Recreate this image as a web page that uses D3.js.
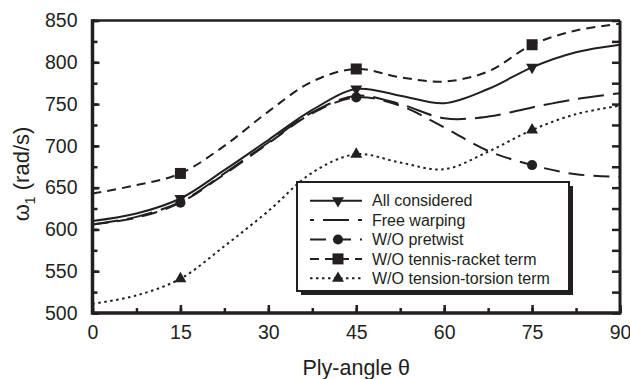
<!DOCTYPE html>
<html>
<head>
<meta charset="utf-8">
<script src="https://cdn.jsdelivr.net/npm/d3@7"></script>
<style>
  body { margin: 0; background: #fff; }
  svg { display: block; font-family: "Liberation Sans", Arial, sans-serif; }
  text { fill: #231f20; }
</style>
</head>
<body>
<svg id="chart"></svg>
<script>
var angles = [0, 7.5, 15, 22.5, 30, 37.5, 45, 52.5, 60, 67.5, 75, 82.5, 90]
var markerAngles = [15, 45, 75]

var allConsidered = [610, 619, 637, 671, 707, 743, 768, 760, 751, 768, 794, 812, 821]
var freeWarping = [606, 615, 633, 667, 704, 740, 760, 750, 733, 735, 746, 756, 763]
var noPretwist = [606, 614, 632, 666, 703, 739, 758, 748, 722, 694, 677, 666, 663]
var noTennisRacket = [643, 653, 667, 700, 741, 777, 792, 782, 777, 789, 821, 838, 846]
var noTensionTorsion = [511, 521, 541, 580, 622, 668, 690, 680, 672, 693, 719, 738, 748]

var xTicks = [0, 15, 30, 45, 60, 75, 90]
var yTicks = [500, 550, 600, 650, 700, 750, 800, 850]

var seriesNames = ["All considered", "Free warping", "W/O pretwist",
    "W/O tennis-racket term", "W/O tension-torsion term"]

var screen = { width: 630, height: 379 }
var margins = { left: 92.5, right: 10, top: 20.5, bottom: 66 }
var graph = {
    width: 527.5,
    height: 292.5
}

var svg = d3.select("#chart")
    .attr("width", screen.width)
    .attr("height", screen.height)

var xScale = d3.scaleLinear()
    .domain([0, 90])
    .range([0, graph.width])

var yScale = d3.scaleLinear()
    .domain([500, 850])
    .range([graph.height, 0])

var makeTranslateString = function (x, y) {
    return "translate(" + x + "," + y + ")";
}

var plot = svg.append("g")
    .attr("transform", makeTranslateString(margins.left, margins.top))

// line styles and markers for each series
var styles = [
    { values: allConsidered, dash: null, marker: "down" },
    { values: freeWarping, dash: "26,9", marker: null },
    { values: noPretwist, dash: "16,9", marker: "circle" },
    { values: noTennisRacket, dash: "9,6", marker: "square" },
    { values: noTensionTorsion, dash: "2.5,3.5", marker: "up" }
]

var symbolPath = function (kind) {
    if (kind == "circle") return d3.symbol(d3.symbolCircle, 80)()
    if (kind == "square") return d3.symbol(d3.symbolSquare, 121)()
    return d3.symbol(d3.symbolTriangle, 62)()
}

var lineGenerator = d3.line()
    .x(function (d) { return xScale(d.angle) })
    .y(function (d) { return yScale(d.value) })
    .curve(d3.curveCatmullRom.alpha(0.5))

styles.forEach(function (s) {
    var pts = angles.map(function (a, i) {
        return { angle: a, value: s.values[i] }
    })
    plot.append("path")
        .datum(pts)
        .attr("d", lineGenerator)
        .attr("fill", "none")
        .attr("stroke", "#231f20")
        .attr("stroke-width", 2)
        .attr("stroke-dasharray", s.dash)

    if (s.marker) {
        plot.selectAll(null)
            .data(pts.filter(function (p) { return markerAngles.indexOf(p.angle) >= 0 }))
            .enter()
            .append("path")
            .attr("d", symbolPath(s.marker))
            .attr("fill", "#231f20")
            .attr("transform", function (p) {
                var t = makeTranslateString(xScale(p.angle), yScale(p.value))
                if (s.marker == "down") t += " rotate(180)"
                return t
            })
    }
})

// axes: inward ticks, major with labels, minor without
var minorX = d3.range(0, 91, 7.5)
var minorY = d3.range(500, 851, 25)

var leftMinor = plot.append("g")
    .call(d3.axisLeft(yScale).tickValues(minorY).tickSize(-5).tickFormat(""))
var leftMajor = plot.append("g")
    .call(d3.axisLeft(yScale).tickValues(yTicks).tickSize(-7).tickPadding(15))
var bottomMinor = plot.append("g")
    .attr("transform", makeTranslateString(0, graph.height))
    .call(d3.axisBottom(xScale).tickValues(minorX).tickSize(-5).tickFormat(""))
var bottomMajor = plot.append("g")
    .attr("transform", makeTranslateString(0, graph.height))
    .call(d3.axisBottom(xScale).tickValues(xTicks).tickSize(-8).tickPadding(12))
var rightMinor = plot.append("g")
    .attr("transform", makeTranslateString(graph.width, 0))
    .call(d3.axisRight(yScale).tickValues(minorY).tickSize(-8).tickFormat(""))

plot.selectAll(".domain").remove()
plot.selectAll(".tick line")
    .attr("stroke", "#231f20")
    .attr("stroke-width", 2.5)
plot.selectAll(".tick text")
    .style("font-size", "19.5px")
    .attr("fill", "#231f20")

// frame
var frame = plot.append("g")
    .attr("stroke", "#231f20")
frame.append("line")
    .attr("x1", 0).attr("x2", graph.width).attr("y1", 0).attr("y2", 0)
    .attr("stroke-width", 2.5)
frame.append("line")
    .attr("x1", graph.width).attr("x2", graph.width).attr("y1", 0).attr("y2", graph.height)
    .attr("stroke-width", 3)
frame.append("line")
    .attr("x1", 0).attr("x2", 0).attr("y1", -1.2).attr("y2", graph.height + 1.7)
    .attr("stroke-width", 3.5)
frame.append("line")
    .attr("x1", 0).attr("x2", graph.width + 1.5).attr("y1", graph.height).attr("y2", graph.height)
    .attr("stroke-width", 3.5)

// legend
var legend = svg.append("g")
    .attr("transform", makeTranslateString(297, 182))
var box = { width: 272, height: 109 }
legend.append("rect")
    .attr("x", 4).attr("y", 4)
    .attr("width", box.width).attr("height", box.height)
    .attr("fill", "#231f20")
legend.append("rect")
    .attr("width", box.width).attr("height", box.height)
    .attr("fill", "white")
    .attr("stroke", "#231f20")
    .attr("stroke-width", 2)

var rows = legend.selectAll("g.row")
    .data(styles)
    .enter()
    .append("g")
    .classed("row", true)
    .attr("transform", function (s, i) {
        return makeTranslateString(0, 18.7 + i * 19.4)
    })

rows.append("line")
    .attr("x1", 13).attr("x2", 65)
    .attr("stroke", "#231f20")
    .attr("stroke-width", 2)
    .attr("stroke-dasharray", function (s) { return s.dash })
    .attr("stroke-dashoffset", function (s, i) { return i == 1 ? 22 : 0 })

rows.filter(function (s) { return s.marker })
    .append("path")
    .attr("d", function (s) { return symbolPath(s.marker) })
    .attr("fill", "#231f20")
    .attr("transform", function (s) {
        return makeTranslateString(41, 0) + (s.marker == "down" ? " rotate(180)" : "")
    })

rows.append("text")
    .attr("x", 75)
    .attr("dy", "0.36em")
    .style("font-size", "16px")
    .text(function (s, i) { return seriesNames[i] })

// axis titles
svg.append("text")
    .attr("x", margins.left + graph.width / 2)
    .attr("y", 375)
    .attr("text-anchor", "middle")
    .style("font-size", "21.5px")
    .text("Ply-angle \u03B8")

var yTitle = svg.append("text")
    .attr("transform", makeTranslateString(29, 174) + " rotate(-90)")
    .attr("text-anchor", "middle")
    .style("font-size", "22px")
yTitle.append("tspan").text("\u03C9")
yTitle.append("tspan")
    .attr("dy", 6)
    .style("font-size", "14px")
    .text("1")
yTitle.append("tspan")
    .attr("dy", -6)
    .text(" (rad/s)")
</script>
</body>
</html>
